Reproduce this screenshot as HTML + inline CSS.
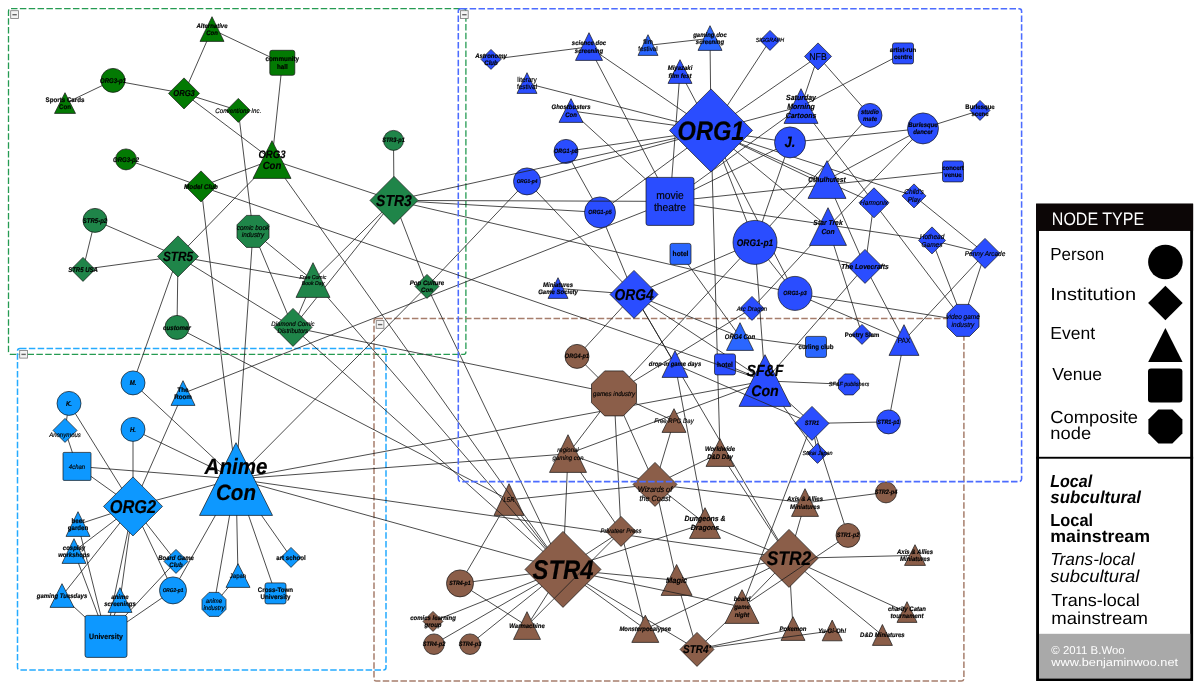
<!DOCTYPE html>
<html><head><meta charset="utf-8"><title>Network</title>
<style>
html,body{margin:0;padding:0;background:#fff;}
body{width:1199px;height:690px;overflow:hidden;font-family:"Liberation Sans",sans-serif;}
svg{display:block;}
text{font-family:"Liberation Sans",sans-serif;fill:#000;text-rendering:geometricPrecision;}
.lab text{text-anchor:middle;stroke:#000;stroke-width:0.18px;}
.bi{font-weight:bold;font-style:italic;}
.b{font-weight:bold;}
.i{font-style:italic;}
.n{}
.edges line{stroke:#1e1e1e;stroke-width:0.8;}
</style></head><body>
<svg width="1199" height="690" viewBox="0 0 1199 690">
<rect width="1199" height="690" fill="#fff"/>
<g>
<rect x="8.5" y="8.7" width="457.4" height="345.7" rx="2.5" fill="none" stroke="#259b52" stroke-width="1.3" stroke-dasharray="6.5 2.35"/><rect x="10.7" y="10.7" width="7.7" height="7.7" fill="#f4f4f4" stroke="#777" stroke-width="0.8"/><line x1="12.4" y1="14.7" x2="16.8" y2="14.7" stroke="#666" stroke-width="1.4"/>
<rect x="17.5" y="348.4" width="368.5" height="321.6" rx="2.5" fill="none" stroke="#25abff" stroke-width="1.5" stroke-dasharray="6.5 2.35"/><rect x="19.7" y="350.4" width="7.7" height="7.7" fill="#f4f4f4" stroke="#777" stroke-width="0.8"/><line x1="21.4" y1="354.4" x2="25.8" y2="354.4" stroke="#666" stroke-width="1.4"/>
<rect x="374.0" y="318.6" width="589.9" height="362.5" rx="2.5" fill="none" stroke="#a67e6c" stroke-width="1.5" stroke-dasharray="6.5 2.35"/><rect x="376.2" y="320.6" width="7.7" height="7.7" fill="#f4f4f4" stroke="#777" stroke-width="0.8"/><line x1="377.9" y1="324.6" x2="382.3" y2="324.6" stroke="#666" stroke-width="1.4"/>
</g>
<g transform="translate(0,0.4)">
<g>
<polygon points="509.0,483.3 524.0,515.0 494.0,515.0" fill="#8b5e49" stroke="#151515" stroke-width="0.7"/>
</g>
<g class="edges">
<line x1="212.0" y1="29.0" x2="282.3" y2="62.4"/>
<line x1="212.0" y1="29.0" x2="184.0" y2="93.0"/>
<line x1="113.0" y1="80.0" x2="65.0" y2="103.0"/>
<line x1="113.0" y1="80.0" x2="184.0" y2="93.0"/>
<line x1="184.0" y1="93.0" x2="238.3" y2="110.0"/>
<line x1="184.0" y1="93.0" x2="272.0" y2="159.5"/>
<line x1="282.3" y1="62.4" x2="272.0" y2="159.5"/>
<line x1="238.3" y1="110.0" x2="253.0" y2="231.0"/>
<line x1="126.0" y1="159.0" x2="201.0" y2="186.0"/>
<line x1="201.0" y1="186.0" x2="272.0" y2="159.5"/>
<line x1="272.0" y1="159.5" x2="394.0" y2="200.0"/>
<line x1="272.0" y1="159.5" x2="178.0" y2="256.0"/>
<line x1="272.0" y1="159.5" x2="563.0" y2="569.0"/>
<line x1="201.0" y1="186.0" x2="236.0" y2="478.6"/>
<line x1="393.5" y1="140.0" x2="394.0" y2="200.0"/>
<line x1="95.0" y1="220.0" x2="178.0" y2="256.0"/>
<line x1="95.0" y1="220.0" x2="83.0" y2="269.0"/>
<line x1="83.0" y1="269.0" x2="178.0" y2="256.0"/>
<line x1="178.0" y1="256.0" x2="177.0" y2="327.0"/>
<line x1="178.0" y1="256.0" x2="313.0" y2="280.0"/>
<line x1="178.0" y1="256.0" x2="293.0" y2="327.0"/>
<line x1="178.0" y1="256.0" x2="133.0" y2="382.5"/>
<line x1="253.0" y1="231.0" x2="313.0" y2="280.0"/>
<line x1="253.0" y1="231.0" x2="293.0" y2="327.0"/>
<line x1="253.0" y1="231.0" x2="236.0" y2="478.6"/>
<line x1="313.0" y1="280.0" x2="293.0" y2="327.0"/>
<line x1="394.0" y1="200.0" x2="313.0" y2="280.0"/>
<line x1="394.0" y1="200.0" x2="293.0" y2="327.0"/>
<line x1="177.0" y1="327.0" x2="502.8" y2="496.3"/>
<line x1="313.0" y1="280.0" x2="563.0" y2="569.0"/>
<line x1="183.0" y1="393.0" x2="670.0" y2="201.0"/>
<line x1="293.0" y1="327.0" x2="614.0" y2="393.0"/>
<line x1="293.0" y1="327.0" x2="563.0" y2="569.0"/>
<line x1="394.0" y1="200.0" x2="427.0" y2="286.0"/>
<line x1="427.0" y1="286.0" x2="563.0" y2="569.0"/>
<line x1="427.0" y1="286.0" x2="527.0" y2="181.0"/>
<line x1="427.0" y1="286.0" x2="236.0" y2="478.6"/>
<line x1="394.0" y1="200.0" x2="600.0" y2="212.0"/>
<line x1="394.0" y1="200.0" x2="795.0" y2="293.0"/>
<line x1="69.0" y1="403.0" x2="65.0" y2="430.0"/>
<line x1="65.0" y1="430.0" x2="77.0" y2="466.0"/>
<line x1="69.0" y1="403.0" x2="133.0" y2="506.0"/>
<line x1="77.0" y1="466.0" x2="133.0" y2="506.0"/>
<line x1="77.0" y1="466.0" x2="236.0" y2="478.6"/>
<line x1="133.0" y1="429.0" x2="133.0" y2="506.0"/>
<line x1="133.0" y1="429.0" x2="236.0" y2="478.6"/>
<line x1="133.0" y1="382.5" x2="236.0" y2="478.6"/>
<line x1="183.0" y1="393.0" x2="133.0" y2="506.0"/>
<line x1="133.0" y1="506.0" x2="236.0" y2="478.6"/>
<line x1="133.0" y1="506.0" x2="78.0" y2="524.0"/>
<line x1="133.0" y1="506.0" x2="74.0" y2="551.0"/>
<line x1="133.0" y1="506.0" x2="62.0" y2="595.5"/>
<line x1="133.0" y1="506.0" x2="120.0" y2="600.0"/>
<line x1="133.0" y1="506.0" x2="106.0" y2="636.0"/>
<line x1="133.0" y1="506.0" x2="176.0" y2="561.0"/>
<line x1="133.0" y1="506.0" x2="173.0" y2="590.0"/>
<line x1="78.0" y1="524.0" x2="106.0" y2="636.0"/>
<line x1="74.0" y1="551.0" x2="106.0" y2="636.0"/>
<line x1="62.0" y1="595.5" x2="106.0" y2="636.0"/>
<line x1="120.0" y1="600.0" x2="106.0" y2="636.0"/>
<line x1="173.0" y1="590.0" x2="106.0" y2="636.0"/>
<line x1="176.0" y1="561.0" x2="106.0" y2="636.0"/>
<line x1="173.0" y1="590.0" x2="236.0" y2="478.6"/>
<line x1="214.0" y1="604.0" x2="236.0" y2="478.6"/>
<line x1="238.0" y1="575.5" x2="236.0" y2="478.6"/>
<line x1="275.5" y1="593.0" x2="236.0" y2="478.6"/>
<line x1="291.0" y1="557.0" x2="236.0" y2="478.6"/>
<line x1="238.0" y1="575.5" x2="214.0" y2="604.0"/>
<line x1="236.0" y1="478.6" x2="765.0" y2="380.5"/>
<line x1="236.0" y1="478.6" x2="568.0" y2="453.5"/>
<line x1="236.0" y1="478.6" x2="789.0" y2="558.0"/>
<line x1="236.0" y1="478.6" x2="563.0" y2="569.0"/>
<line x1="491.0" y1="59.0" x2="589.0" y2="46.5"/>
<line x1="648.0" y1="45.0" x2="710.0" y2="38.0"/>
<line x1="710.0" y1="38.0" x2="711.0" y2="130.0"/>
<line x1="589.0" y1="46.5" x2="711.0" y2="130.0"/>
<line x1="589.0" y1="46.5" x2="670.0" y2="201.0"/>
<line x1="527.0" y1="83.0" x2="711.0" y2="130.0"/>
<line x1="571.0" y1="110.5" x2="711.0" y2="130.0"/>
<line x1="571.0" y1="110.5" x2="670.0" y2="201.0"/>
<line x1="680.0" y1="71.5" x2="711.0" y2="130.0"/>
<line x1="680.0" y1="71.5" x2="670.0" y2="201.0"/>
<line x1="770.0" y1="40.0" x2="711.0" y2="130.0"/>
<line x1="818.0" y1="56.0" x2="711.0" y2="130.0"/>
<line x1="818.0" y1="56.0" x2="801.0" y2="106.0"/>
<line x1="818.0" y1="56.0" x2="870.0" y2="115.0"/>
<line x1="903.0" y1="53.0" x2="801.0" y2="106.0"/>
<line x1="801.0" y1="106.0" x2="711.0" y2="130.0"/>
<line x1="801.0" y1="106.0" x2="874.0" y2="202.4"/>
<line x1="566.0" y1="151.0" x2="711.0" y2="130.0"/>
<line x1="566.0" y1="151.0" x2="600.0" y2="212.0"/>
<line x1="527.0" y1="181.0" x2="711.0" y2="130.0"/>
<line x1="527.0" y1="181.0" x2="634.0" y2="294.0"/>
<line x1="600.0" y1="212.0" x2="711.0" y2="130.0"/>
<line x1="600.0" y1="212.0" x2="634.0" y2="294.0"/>
<line x1="670.0" y1="201.0" x2="801.0" y2="106.0"/>
<line x1="711.0" y1="130.0" x2="790.0" y2="142.0"/>
<line x1="790.0" y1="142.0" x2="670.0" y2="201.0"/>
<line x1="790.0" y1="142.0" x2="923.0" y2="128.0"/>
<line x1="790.0" y1="142.0" x2="755.0" y2="242.0"/>
<line x1="923.0" y1="128.0" x2="980.0" y2="110.0"/>
<line x1="923.0" y1="128.0" x2="827.0" y2="179.5"/>
<line x1="923.0" y1="128.0" x2="828.0" y2="226.5"/>
<line x1="711.0" y1="130.0" x2="827.0" y2="185.5"/>
<line x1="711.0" y1="130.0" x2="914.0" y2="195.5"/>
<line x1="711.0" y1="130.0" x2="874.0" y2="202.4"/>
<line x1="711.0" y1="130.0" x2="828.0" y2="226.5"/>
<line x1="711.0" y1="130.0" x2="755.0" y2="242.0"/>
<line x1="711.0" y1="130.0" x2="795.0" y2="293.0"/>
<line x1="711.0" y1="130.0" x2="720.0" y2="452.5"/>
<line x1="670.0" y1="201.0" x2="953.0" y2="171.0"/>
<line x1="670.0" y1="201.0" x2="932.0" y2="240.0"/>
<line x1="932.0" y1="240.0" x2="985.0" y2="253.0"/>
<line x1="827.0" y1="179.5" x2="865.0" y2="266.0"/>
<line x1="828.0" y1="226.5" x2="862.0" y2="334.0"/>
<line x1="828.0" y1="226.5" x2="752.0" y2="308.0"/>
<line x1="874.0" y1="202.4" x2="865.0" y2="266.0"/>
<line x1="874.0" y1="202.4" x2="963.0" y2="320.0"/>
<line x1="914.0" y1="195.5" x2="985.0" y2="253.0"/>
<line x1="755.0" y1="242.0" x2="870.0" y2="115.0"/>
<line x1="755.0" y1="242.0" x2="865.0" y2="266.0"/>
<line x1="755.0" y1="242.0" x2="634.0" y2="294.0"/>
<line x1="755.0" y1="242.0" x2="614.0" y2="393.0"/>
<line x1="755.0" y1="242.0" x2="765.0" y2="380.5"/>
<line x1="755.0" y1="242.0" x2="795.0" y2="293.0"/>
<line x1="795.0" y1="293.0" x2="963.0" y2="320.0"/>
<line x1="795.0" y1="293.0" x2="904.0" y2="340.0"/>
<line x1="932.0" y1="240.0" x2="963.0" y2="320.0"/>
<line x1="985.0" y1="253.0" x2="963.0" y2="320.0"/>
<line x1="985.0" y1="253.0" x2="904.0" y2="340.0"/>
<line x1="865.0" y1="266.0" x2="904.0" y2="340.0"/>
<line x1="865.0" y1="266.0" x2="765.0" y2="380.5"/>
<line x1="904.0" y1="340.0" x2="888.5" y2="421.5"/>
<line x1="558.0" y1="288.0" x2="634.0" y2="294.0"/>
<line x1="634.0" y1="294.0" x2="577.0" y2="356.0"/>
<line x1="634.0" y1="294.0" x2="740.0" y2="336.5"/>
<line x1="634.0" y1="294.0" x2="765.0" y2="380.5"/>
<line x1="634.0" y1="294.0" x2="675.0" y2="364.0"/>
<line x1="634.0" y1="294.0" x2="789.0" y2="558.0"/>
<line x1="680.5" y1="253.5" x2="740.0" y2="336.5"/>
<line x1="752.0" y1="308.0" x2="614.0" y2="393.0"/>
<line x1="740.0" y1="336.5" x2="816.0" y2="346.5"/>
<line x1="725.0" y1="364.0" x2="765.0" y2="380.5"/>
<line x1="765.0" y1="380.5" x2="849.0" y2="384.0"/>
<line x1="765.0" y1="380.5" x2="812.0" y2="423.0"/>
<line x1="675.0" y1="364.0" x2="705.0" y2="523.0"/>
<line x1="812.0" y1="423.0" x2="888.5" y2="421.5"/>
<line x1="812.0" y1="423.0" x2="817.5" y2="453.0"/>
<line x1="812.0" y1="423.0" x2="742.0" y2="606.5"/>
<line x1="577.0" y1="356.0" x2="614.0" y2="393.0"/>
<line x1="614.0" y1="393.0" x2="568.0" y2="453.5"/>
<line x1="614.0" y1="393.0" x2="621.0" y2="531.0"/>
<line x1="614.0" y1="393.0" x2="655.0" y2="484.0"/>
<line x1="614.0" y1="393.0" x2="674.0" y2="420.5"/>
<line x1="674.0" y1="420.5" x2="655.0" y2="484.0"/>
<line x1="655.0" y1="484.0" x2="720.0" y2="452.5"/>
<line x1="655.0" y1="484.0" x2="568.0" y2="453.5"/>
<line x1="655.0" y1="484.0" x2="516.3" y2="498.7"/>
<line x1="655.0" y1="484.0" x2="705.0" y2="523.0"/>
<line x1="655.0" y1="484.0" x2="805.0" y2="502.5"/>
<line x1="805.0" y1="502.5" x2="886.0" y2="492.0"/>
<line x1="655.0" y1="484.0" x2="676.6" y2="579.9"/>
<line x1="568.0" y1="453.5" x2="563.0" y2="569.0"/>
<line x1="568.0" y1="453.5" x2="621.0" y2="531.0"/>
<line x1="568.0" y1="453.5" x2="765.0" y2="380.5"/>
<line x1="521.0" y1="515.0" x2="563.0" y2="569.0"/>
<line x1="499.9" y1="515.0" x2="460.0" y2="583.0"/>
<line x1="563.0" y1="569.0" x2="460.0" y2="583.0"/>
<line x1="563.0" y1="569.0" x2="433.0" y2="621.0"/>
<line x1="563.0" y1="569.0" x2="434.0" y2="643.8"/>
<line x1="563.0" y1="569.0" x2="470.0" y2="643.8"/>
<line x1="563.0" y1="569.0" x2="527.0" y2="625.5"/>
<line x1="460.0" y1="583.0" x2="527.0" y2="625.5"/>
<line x1="563.0" y1="569.0" x2="621.0" y2="531.0"/>
<line x1="563.0" y1="569.0" x2="705.0" y2="523.0"/>
<line x1="563.0" y1="569.0" x2="676.6" y2="579.9"/>
<line x1="676.6" y1="579.9" x2="789.0" y2="558.0"/>
<line x1="563.0" y1="569.0" x2="645.3" y2="628.8"/>
<line x1="563.0" y1="569.0" x2="697.0" y2="649.0"/>
<line x1="621.0" y1="531.0" x2="645.3" y2="628.8"/>
<line x1="676.6" y1="579.9" x2="697.0" y2="649.0"/>
<line x1="645.3" y1="628.8" x2="789.0" y2="558.0"/>
<line x1="805.0" y1="502.5" x2="789.0" y2="558.0"/>
<line x1="789.0" y1="558.0" x2="915.0" y2="555.0"/>
<line x1="789.0" y1="558.0" x2="907.0" y2="612.0"/>
<line x1="789.0" y1="558.0" x2="882.4" y2="634.9"/>
<line x1="789.0" y1="558.0" x2="793.0" y2="628.5"/>
<line x1="789.0" y1="558.0" x2="742.0" y2="606.5"/>
<line x1="789.0" y1="558.0" x2="705.0" y2="523.0"/>
<line x1="720.0" y1="452.5" x2="789.0" y2="558.0"/>
<line x1="742.0" y1="606.5" x2="697.0" y2="649.0"/>
<line x1="793.0" y1="628.5" x2="697.0" y2="649.0"/>
</g>
<g>
<polygon points="212.0,16.3 224.0,41.0 200.0,41.0" fill="#037a03" stroke="#151515" stroke-width="0.7"/>
<rect x="269.8" y="49.9" width="25.0" height="25.0" rx="2.2" fill="#037a03" stroke="#151515" stroke-width="0.7"/>
<circle cx="113.0" cy="80.0" r="12.0" fill="#037a03" stroke="#151515" stroke-width="0.7"/>
<polygon points="65.0,92.3 75.5,113.0 54.5,113.0" fill="#037a03" stroke="#151515" stroke-width="0.7"/>
<polygon points="184.0,77.5 199.5,93.0 184.0,108.5 168.5,93.0" fill="#037a03" stroke="#151515" stroke-width="0.7"/>
<polygon points="238.3,98.0 250.3,110.0 238.3,122.0 226.3,110.0" fill="#037a03" stroke="#151515" stroke-width="0.7"/>
<polygon points="272.0,140.3 291.0,178.0 253.0,178.0" fill="#037a03" stroke="#151515" stroke-width="0.7"/>
<circle cx="126.0" cy="159.0" r="10.5" fill="#037a03" stroke="#151515" stroke-width="0.7"/>
<polygon points="201.0,170.5 216.5,186.0 201.0,201.5 185.5,186.0" fill="#037a03" stroke="#151515" stroke-width="0.7"/>
<circle cx="393.5" cy="140.0" r="10.0" fill="#1f8549" stroke="#151515" stroke-width="0.7"/>
<polygon points="394.0,176.0 418.0,200.0 394.0,224.0 370.0,200.0" fill="#1f8549" stroke="#151515" stroke-width="0.7"/>
<circle cx="95.0" cy="220.0" r="12.0" fill="#1f8549" stroke="#151515" stroke-width="0.7"/>
<polygon points="83.0,257.0 95.0,269.0 83.0,281.0 71.0,269.0" fill="#1f8549" stroke="#151515" stroke-width="0.7"/>
<polygon points="178.0,235.5 198.5,256.0 178.0,276.5 157.5,256.0" fill="#1f8549" stroke="#151515" stroke-width="0.7"/>
<polygon points="246.4,215.0 259.6,215.0 269.0,224.4 269.0,237.6 259.6,247.0 246.4,247.0 237.0,237.6 237.0,224.4" fill="#1f8549" stroke="#151515" stroke-width="0.7"/>
<polygon points="313.0,262.3 330.0,297.0 296.0,297.0" fill="#1f8549" stroke="#151515" stroke-width="0.7"/>
<polygon points="293.0,308.0 312.0,327.0 293.0,346.0 274.0,327.0" fill="#1f8549" stroke="#151515" stroke-width="0.7"/>
<circle cx="177.0" cy="327.0" r="12.0" fill="#1f8549" stroke="#151515" stroke-width="0.7"/>
<polygon points="427.0,274.0 439.0,286.0 427.0,298.0 415.0,286.0" fill="#1f8549" stroke="#151515" stroke-width="0.7"/>
<circle cx="133.0" cy="382.5" r="12.0" fill="#0d98ff" stroke="#151515" stroke-width="0.7"/>
<circle cx="69.0" cy="403.0" r="12.0" fill="#0d98ff" stroke="#151515" stroke-width="0.7"/>
<circle cx="133.0" cy="429.0" r="12.0" fill="#0d98ff" stroke="#151515" stroke-width="0.7"/>
<polygon points="183.0,380.3 195.0,405.0 171.0,405.0" fill="#0d98ff" stroke="#151515" stroke-width="0.7"/>
<polygon points="65.0,418.0 77.0,430.0 65.0,442.0 53.0,430.0" fill="#0d98ff" stroke="#151515" stroke-width="0.7"/>
<rect x="63.0" y="452.0" width="28.0" height="28.0" rx="1.0" fill="#0d98ff" stroke="#151515" stroke-width="0.7"/>
<polygon points="133.0,476.5 162.5,506.0 133.0,535.5 103.5,506.0" fill="#0d98ff" stroke="#151515" stroke-width="0.7"/>
<polygon points="236.0,442.3 272.5,515.0 199.5,515.0" fill="#0d98ff" stroke="#151515" stroke-width="0.7"/>
<polygon points="78.0,511.3 90.0,536.0 66.0,536.0" fill="#0d98ff" stroke="#151515" stroke-width="0.7"/>
<polygon points="74.0,538.3 86.0,563.0 62.0,563.0" fill="#0d98ff" stroke="#151515" stroke-width="0.7"/>
<polygon points="62.0,583.3 74.0,607.0 50.0,607.0" fill="#0d98ff" stroke="#151515" stroke-width="0.7"/>
<polygon points="120.0,587.3 132.0,612.0 108.0,612.0" fill="#0d98ff" stroke="#151515" stroke-width="0.7"/>
<rect x="85.0" y="615.0" width="42.0" height="42.0" rx="2.2" fill="#0d98ff" stroke="#151515" stroke-width="0.7"/>
<circle cx="173.0" cy="590.0" r="13.5" fill="#0d98ff" stroke="#151515" stroke-width="0.7"/>
<polygon points="176.0,549.0 188.0,561.0 176.0,573.0 164.0,561.0" fill="#0d98ff" stroke="#151515" stroke-width="0.7"/>
<polygon points="209.0,592.0 219.0,592.0 226.0,599.0 226.0,609.0 219.0,616.0 209.0,616.0 202.0,609.0 202.0,599.0" fill="#0d98ff" stroke="#151515" stroke-width="0.7"/>
<polygon points="238.0,563.3 250.0,587.0 226.0,587.0" fill="#0d98ff" stroke="#151515" stroke-width="0.7"/>
<rect x="265.0" y="582.5" width="21.0" height="21.0" rx="2.2" fill="#0d98ff" stroke="#151515" stroke-width="0.7"/>
<polygon points="291.0,547.0 301.0,557.0 291.0,567.0 281.0,557.0" fill="#0d98ff" stroke="#151515" stroke-width="0.7"/>
<polygon points="491.0,49.0 501.0,59.0 491.0,69.0 481.0,59.0" fill="#2a4dff" stroke="#151515" stroke-width="0.7"/>
<polygon points="527.0,72.3 537.0,93.0 517.0,93.0" fill="#2a4dff" stroke="#151515" stroke-width="0.7"/>
<polygon points="589.0,32.3 602.5,60.0 575.5,60.0" fill="#2a4dff" stroke="#151515" stroke-width="0.7"/>
<polygon points="648.0,34.3 658.0,55.0 638.0,55.0" fill="#2a66ff" stroke="#151515" stroke-width="0.7"/>
<polygon points="710.0,25.3 722.0,50.0 698.0,50.0" fill="#2a66ff" stroke="#151515" stroke-width="0.7"/>
<polygon points="770.0,30.0 780.0,40.0 770.0,50.0 760.0,40.0" fill="#2a4dff" stroke="#151515" stroke-width="0.7"/>
<polygon points="680.0,59.3 692.0,83.0 668.0,83.0" fill="#2a4dff" stroke="#151515" stroke-width="0.7"/>
<polygon points="571.0,98.3 583.0,122.0 559.0,122.0" fill="#2a4dff" stroke="#151515" stroke-width="0.7"/>
<polygon points="711.0,88.5 752.5,130.0 711.0,171.5 669.5,130.0" fill="#2a4dff" stroke="#151515" stroke-width="0.7"/>
<circle cx="566.0" cy="151.0" r="12.0" fill="#2a4dff" stroke="#151515" stroke-width="0.7"/>
<circle cx="527.0" cy="181.0" r="13.5" fill="#2a4dff" stroke="#151515" stroke-width="0.7"/>
<circle cx="600.0" cy="212.0" r="15.5" fill="#2a4dff" stroke="#151515" stroke-width="0.7"/>
<rect x="646.0" y="177.0" width="48.0" height="48.0" rx="2.2" fill="#2a4dff" stroke="#151515" stroke-width="0.7"/>
<polygon points="818.0,42.5 831.5,56.0 818.0,69.5 804.5,56.0" fill="#2a4dff" stroke="#151515" stroke-width="0.7"/>
<rect x="892.5" y="42.5" width="21.0" height="21.0" rx="2.2" fill="#2a4dff" stroke="#151515" stroke-width="0.7"/>
<polygon points="801.0,88.3 818.0,123.0 784.0,123.0" fill="#2a4dff" stroke="#151515" stroke-width="0.7"/>
<circle cx="870.0" cy="115.0" r="12.0" fill="#2a4dff" stroke="#151515" stroke-width="0.7"/>
<circle cx="923.0" cy="128.0" r="15.5" fill="#2a4dff" stroke="#151515" stroke-width="0.7"/>
<polygon points="980.0,100.0 990.0,110.0 980.0,120.0 970.0,110.0" fill="#2a4dff" stroke="#151515" stroke-width="0.7"/>
<circle cx="790.0" cy="142.0" r="15.5" fill="#2a4dff" stroke="#151515" stroke-width="0.7"/>
<polygon points="827.0,160.3 846.0,198.0 808.0,198.0" fill="#2a4dff" stroke="#151515" stroke-width="0.7"/>
<rect x="942.5" y="160.5" width="21.0" height="21.0" rx="2.2" fill="#2a4dff" stroke="#151515" stroke-width="0.7"/>
<polygon points="874.0,187.4 889.0,202.4 874.0,217.4 859.0,202.4" fill="#2a4dff" stroke="#151515" stroke-width="0.7"/>
<polygon points="914.0,183.5 926.0,195.5 914.0,207.5 902.0,195.5" fill="#2a4dff" stroke="#151515" stroke-width="0.7"/>
<polygon points="828.0,207.3 846.5,245.0 809.5,245.0" fill="#2a4dff" stroke="#151515" stroke-width="0.7"/>
<polygon points="932.0,226.5 945.5,240.0 932.0,253.5 918.5,240.0" fill="#2a4dff" stroke="#151515" stroke-width="0.7"/>
<polygon points="985.0,238.0 1000.0,253.0 985.0,268.0 970.0,253.0" fill="#2a4dff" stroke="#151515" stroke-width="0.7"/>
<polygon points="865.0,249.0 882.0,266.0 865.0,283.0 848.0,266.0" fill="#2a4dff" stroke="#151515" stroke-width="0.7"/>
<circle cx="755.0" cy="242.0" r="22.0" fill="#2a4dff" stroke="#151515" stroke-width="0.7"/>
<circle cx="795.0" cy="293.0" r="17.0" fill="#2a4dff" stroke="#151515" stroke-width="0.7"/>
<rect x="670.0" y="243.0" width="21.0" height="21.0" rx="2.2" fill="#2a66ff" stroke="#151515" stroke-width="0.7"/>
<polygon points="558.0,277.3 568.0,298.0 548.0,298.0" fill="#2a4dff" stroke="#151515" stroke-width="0.7"/>
<polygon points="634.0,270.0 658.0,294.0 634.0,318.0 610.0,294.0" fill="#2a4dff" stroke="#151515" stroke-width="0.7"/>
<polygon points="752.0,296.0 764.0,308.0 752.0,320.0 740.0,308.0" fill="#2a4dff" stroke="#151515" stroke-width="0.7"/>
<polygon points="740.0,322.3 753.5,350.0 726.5,350.0" fill="#2a66ff" stroke="#151515" stroke-width="0.7"/>
<polygon points="956.4,304.0 969.6,304.0 979.0,313.4 979.0,326.6 969.6,336.0 956.4,336.0 947.0,326.6 947.0,313.4" fill="#2a4dff" stroke="#151515" stroke-width="0.7"/>
<polygon points="862.0,324.0 872.0,334.0 862.0,344.0 852.0,334.0" fill="#2a4dff" stroke="#151515" stroke-width="0.7"/>
<polygon points="904.0,324.3 919.0,355.0 889.0,355.0" fill="#2a4dff" stroke="#151515" stroke-width="0.7"/>
<rect x="805.5" y="336.0" width="21.0" height="21.0" rx="2.2" fill="#2a66ff" stroke="#151515" stroke-width="0.7"/>
<polygon points="675.0,350.3 688.0,377.0 662.0,377.0" fill="#2a4dff" stroke="#151515" stroke-width="0.7"/>
<rect x="714.5" y="353.5" width="21.0" height="21.0" rx="2.2" fill="#2a4dff" stroke="#151515" stroke-width="0.7"/>
<polygon points="765.0,354.3 791.0,406.0 739.0,406.0" fill="#2a4dff" stroke="#151515" stroke-width="0.7"/>
<polygon points="844.7,373.5 853.3,373.5 859.5,379.7 859.5,388.3 853.3,394.5 844.7,394.5 838.5,388.3 838.5,379.7" fill="#2a4dff" stroke="#151515" stroke-width="0.7"/>
<polygon points="812.0,406.0 829.0,423.0 812.0,440.0 795.0,423.0" fill="#2a4dff" stroke="#151515" stroke-width="0.7"/>
<circle cx="888.5" cy="421.5" r="12.0" fill="#2a4dff" stroke="#151515" stroke-width="0.7"/>
<polygon points="817.5,443.0 827.5,453.0 817.5,463.0 807.5,453.0" fill="#2a4dff" stroke="#151515" stroke-width="0.7"/>
<circle cx="577.0" cy="356.0" r="12.0" fill="#8b5e49" stroke="#151515" stroke-width="0.7"/>
<polygon points="604.7,370.5 623.3,370.5 636.5,383.7 636.5,402.3 623.3,415.5 604.7,415.5 591.5,402.3 591.5,383.7" fill="#8b5e49" stroke="#151515" stroke-width="0.7"/>
<polygon points="674.0,408.3 686.0,432.0 662.0,432.0" fill="#8b5e49" stroke="#151515" stroke-width="0.7"/>
<polygon points="720.0,438.3 734.0,466.0 706.0,466.0" fill="#8b5e49" stroke="#151515" stroke-width="0.7"/>
<polygon points="568.0,434.3 586.5,472.0 549.5,472.0" fill="#8b5e49" stroke="#151515" stroke-width="0.7"/>
<polygon points="655.0,462.0 677.0,484.0 655.0,506.0 633.0,484.0" fill="#8b5e49" stroke="#151515" stroke-width="0.7"/>
<polygon points="621.0,516.0 636.0,531.0 621.0,546.0 606.0,531.0" fill="#8b5e49" stroke="#151515" stroke-width="0.7"/>
<polygon points="705.0,507.3 720.5,538.0 689.5,538.0" fill="#8b5e49" stroke="#151515" stroke-width="0.7"/>
<polygon points="563.0,531.0 601.0,569.0 563.0,607.0 525.0,569.0" fill="#8b5e49" stroke="#151515" stroke-width="0.7"/>
<circle cx="460.0" cy="583.0" r="13.5" fill="#8b5e49" stroke="#151515" stroke-width="0.7"/>
<polygon points="676.6,564.1 692.1,595.0 661.1,595.0" fill="#8b5e49" stroke="#151515" stroke-width="0.7"/>
<polygon points="433.0,611.0 443.0,621.0 433.0,631.0 423.0,621.0" fill="#8b5e49" stroke="#151515" stroke-width="0.7"/>
<circle cx="434.0" cy="643.8" r="10.3" fill="#8b5e49" stroke="#151515" stroke-width="0.7"/>
<circle cx="470.0" cy="643.8" r="10.3" fill="#8b5e49" stroke="#151515" stroke-width="0.7"/>
<polygon points="527.0,611.3 540.5,639.0 513.5,639.0" fill="#8b5e49" stroke="#151515" stroke-width="0.7"/>
<polygon points="645.3,614.8 658.8,642.0 631.8,642.0" fill="#8b5e49" stroke="#151515" stroke-width="0.7"/>
<polygon points="697.0,632.0 714.0,649.0 697.0,666.0 680.0,649.0" fill="#8b5e49" stroke="#151515" stroke-width="0.7"/>
<polygon points="742.0,589.3 759.0,623.0 725.0,623.0" fill="#8b5e49" stroke="#151515" stroke-width="0.7"/>
<polygon points="805.0,488.3 818.5,516.0 791.5,516.0" fill="#8b5e49" stroke="#151515" stroke-width="0.7"/>
<circle cx="886.0" cy="492.0" r="10.5" fill="#8b5e49" stroke="#151515" stroke-width="0.7"/>
<circle cx="848.0" cy="535.0" r="12.0" fill="#8b5e49" stroke="#151515" stroke-width="0.7"/>
<polygon points="789.0,529.0 818.0,558.0 789.0,587.0 760.0,558.0" fill="#8b5e49" stroke="#151515" stroke-width="0.7"/>
<polygon points="915.0,544.3 925.5,565.0 904.5,565.0" fill="#8b5e49" stroke="#151515" stroke-width="0.7"/>
<polygon points="793.0,616.3 805.0,640.0 781.0,640.0" fill="#8b5e49" stroke="#151515" stroke-width="0.7"/>
<polygon points="832.2,619.7 842.2,640.4 822.2,640.4" fill="#8b5e49" stroke="#151515" stroke-width="0.7"/>
<polygon points="882.4,624.1 892.4,645.0 872.4,645.0" fill="#8b5e49" stroke="#151515" stroke-width="0.7"/>
<polygon points="907.0,601.3 917.0,622.0 897.0,622.0" fill="#8b5e49" stroke="#151515" stroke-width="0.7"/>
</g>
</g>
<rect x="458.3" y="8.7" width="563.3" height="472.9" rx="2.5" fill="none" stroke="#4c6cff" stroke-width="1.55" stroke-dasharray="6.5 2.35"/><rect x="460.5" y="10.7" width="7.7" height="7.7" fill="#f4f4f4" stroke="#777" stroke-width="0.8"/><line x1="462.2" y1="14.7" x2="466.6" y2="14.7" stroke="#666" stroke-width="1.4"/>
<g transform="translate(0,0.4)">
<g class="edges">
<line x1="594.4" y1="575.6" x2="734.2" y2="604.9"/>
<line x1="826.7" y1="631.2" x2="711.9" y2="646.9"/>
<line x1="212.5" y1="190.0" x2="753.8" y2="376.6"/>
<line x1="413.7" y1="195.7" x2="677.0" y2="137.5"/>
<line x1="417.9" y1="200.1" x2="646.0" y2="200.9"/>
<line x1="531.6" y1="620.8" x2="613.5" y2="538.5"/>
<line x1="838.1" y1="541.7" x2="748.5" y2="602.1"/>
<line x1="683.4" y1="367.6" x2="800.1" y2="417.9"/>
<line x1="783.5" y1="406.0" x2="813.3" y2="447.2"/>
<line x1="816.1" y1="435.9" x2="844.3" y2="523.6"/>
</g>
<g class="lab" opacity="0.999">
<text class="bi" transform="translate(212.0,27.3) scale(0.93,1)" font-size="6.45">Alternative</text><text class="bi" transform="translate(212.0,34.8) scale(0.93,1)" font-size="6.45">Con</text>
<text class="b" transform="translate(282.3,60.8) scale(0.93,1)" font-size="6.77">community</text><text class="b" transform="translate(282.3,68.3) scale(0.93,1)" font-size="6.77">hall</text>
<text class="bi" transform="translate(113.0,82.2) scale(0.88,1)" font-size="6.82">ORG3-p1</text>
<text class="b" transform="translate(65.0,101.4) scale(0.93,1)" font-size="6.67">Sports Cards</text><text class="b" transform="translate(65.0,108.9) scale(0.93,1)" font-size="6.67">Con</text>
<text class="bi" transform="translate(184.0,95.8) scale(0.88,1)" font-size="8.64">ORG3</text>
<text class="i" transform="translate(238.3,112.1) scale(0.93,1)" font-size="6.67">Conventions Inc.</text>
<text class="bi" transform="translate(272.0,157.1) scale(0.88,1)" font-size="10.91">ORG3</text><text class="bi" transform="translate(272.0,168.9) scale(0.93,1)" font-size="10.32">Con</text>
<text class="bi" transform="translate(126.0,161.2) scale(0.88,1)" font-size="6.82">ORG3-p2</text>
<text class="bi" transform="translate(201.0,188.2) scale(0.93,1)" font-size="6.77">Model Club</text>
<text class="bi" transform="translate(393.5,142.0) scale(0.88,1)" font-size="6.36">STR3-p1</text>
<text class="bi" transform="translate(394.0,205.4) scale(0.88,1)" font-size="15.91">STR3</text>
<text class="bi" transform="translate(95.0,222.2) scale(0.88,1)" font-size="6.82">STR5-p2</text>
<text class="bi" transform="translate(83.0,271.2) scale(0.88,1)" font-size="6.82">STR5 USA</text>
<text class="bi" transform="translate(178.0,260.5) scale(0.88,1)" font-size="13.41">STR5</text>
<text class="i" transform="translate(253.0,229.5) scale(0.93,1)" font-size="6.88">comic book</text><text class="i" transform="translate(253.0,237.0) scale(0.93,1)" font-size="6.88">industry</text>
<text class="i" transform="translate(313.0,278.5) scale(0.93,1)" font-size="5.59">Free Comic</text><text class="i" transform="translate(313.0,285.0) scale(0.93,1)" font-size="5.59">Book Day</text>
<text class="i" transform="translate(293.0,325.3) scale(0.93,1)" font-size="6.56">Diamond Comic</text><text class="i" transform="translate(293.0,332.8) scale(0.93,1)" font-size="6.56">Distributors</text>
<text class="bi" transform="translate(177.0,329.1) scale(0.93,1)" font-size="6.67">customer</text>
<text class="bi" transform="translate(427.0,284.3) scale(0.93,1)" font-size="6.56">Pop Culture</text><text class="bi" transform="translate(427.0,291.8) scale(0.93,1)" font-size="6.56">Con</text>
<text class="bi" transform="translate(133.0,384.7) scale(0.88,1)" font-size="6.82">M.</text>
<text class="bi" transform="translate(69.0,405.2) scale(0.88,1)" font-size="6.82">K.</text>
<text class="bi" transform="translate(133.0,431.2) scale(0.88,1)" font-size="6.82">H.</text>
<text class="b" transform="translate(183.0,391.9) scale(0.93,1)" font-size="6.67">The</text><text class="b" transform="translate(183.0,398.4) scale(0.93,1)" font-size="6.67">Room</text>
<text class="i" transform="translate(65.0,436.6) scale(0.93,1)" font-size="6.45">Anonymous</text>
<text class="i" transform="translate(77.0,468.1) scale(0.93,1)" font-size="6.45">4chan</text>
<text class="bi" transform="translate(133.0,512.3) scale(0.88,1)" font-size="18.64">ORG2</text>
<text class="bi" transform="translate(236.0,473.2) scale(0.93,1)" font-size="22.15">Anime</text><text class="bi" transform="translate(236.0,499.2) scale(0.93,1)" font-size="22.15">Con</text>
<text class="b" transform="translate(78.0,522.4) scale(0.93,1)" font-size="6.67">beer</text><text class="b" transform="translate(78.0,529.9) scale(0.93,1)" font-size="6.67">garden</text>
<text class="bi" transform="translate(74.0,549.3) scale(0.93,1)" font-size="6.45">cosplay</text><text class="bi" transform="translate(74.0,556.8) scale(0.93,1)" font-size="6.45">workshops</text>
<text class="bi" transform="translate(62.0,597.6) scale(0.93,1)" font-size="6.45">gaming Tuesdays</text>
<text class="bi" transform="translate(120.0,598.3) scale(0.93,1)" font-size="6.45">anime</text><text class="bi" transform="translate(120.0,605.8) scale(0.93,1)" font-size="6.45">screenings</text>
<text class="b" transform="translate(106.0,638.4) scale(0.93,1)" font-size="7.53">University</text>
<text class="bi" transform="translate(173.0,591.7) scale(0.88,1)" font-size="5.45">ORG2-p1</text>
<text class="bi" transform="translate(176.0,559.3) scale(0.93,1)" font-size="6.45">Board Game</text><text class="bi" transform="translate(176.0,566.8) scale(0.93,1)" font-size="6.45">Club</text>
<text class="i" transform="translate(214.0,602.3) scale(0.93,1)" font-size="6.45">anime</text><text class="i" transform="translate(214.0,609.8) scale(0.93,1)" font-size="6.45">industry</text>
<text class="n" transform="translate(238.0,577.6) scale(0.93,1)" font-size="6.45">Japan</text>
<text class="b" transform="translate(275.5,591.4) scale(0.93,1)" font-size="6.67">Cross-Town</text><text class="b" transform="translate(275.5,598.9) scale(0.93,1)" font-size="6.67">University</text>
<text class="b" transform="translate(291.0,559.1) scale(0.93,1)" font-size="6.67">art school</text>
<text class="bi" transform="translate(491.0,57.3) scale(0.93,1)" font-size="6.45">Astronomy</text><text class="bi" transform="translate(491.0,64.8) scale(0.93,1)" font-size="6.45">Club</text>
<text class="n" transform="translate(527.0,81.5) scale(0.93,1)" font-size="6.99">literary</text><text class="n" transform="translate(527.0,89.0) scale(0.93,1)" font-size="6.99">festival</text>
<text class="bi" transform="translate(589.0,44.8) scale(0.93,1)" font-size="6.45">science doc</text><text class="bi" transform="translate(589.0,52.3) scale(0.93,1)" font-size="6.45">screening</text>
<text class="n" transform="translate(648.0,43.4) scale(0.93,1)" font-size="6.67">film</text><text class="n" transform="translate(648.0,50.9) scale(0.93,1)" font-size="6.67">festival</text>
<text class="bi" transform="translate(710.0,36.3) scale(0.93,1)" font-size="6.45">gaming doc</text><text class="bi" transform="translate(710.0,43.8) scale(0.93,1)" font-size="6.45">screening</text>
<text class="i" transform="translate(770.0,41.9) scale(0.88,1)" font-size="6.14">SIGGRAPH</text>
<text class="bi" transform="translate(680.0,69.8) scale(0.93,1)" font-size="6.45">Miyazaki</text><text class="bi" transform="translate(680.0,77.3) scale(0.93,1)" font-size="6.45">film fest</text>
<text class="bi" transform="translate(571.0,108.8) scale(0.93,1)" font-size="6.45">Ghostbusters</text><text class="bi" transform="translate(571.0,116.3) scale(0.93,1)" font-size="6.45">Con</text>
<text class="bi" transform="translate(711.0,139.2) scale(0.88,1)" font-size="26.82">ORG1</text>
<text class="bi" transform="translate(566.0,153.0) scale(0.88,1)" font-size="6.25">ORG1-p8</text>
<text class="bi" transform="translate(527.0,182.7) scale(0.88,1)" font-size="5.45">ORG1-p4</text>
<text class="bi" transform="translate(600.0,213.9) scale(0.88,1)" font-size="6.14">ORG1-p5</text>
<text class="n" transform="translate(670.0,198.9) scale(0.93,1)" font-size="11.08">movie</text><text class="n" transform="translate(670.0,210.4) scale(0.93,1)" font-size="11.08">theatre</text>
<text class="n" transform="translate(818.0,59.3) scale(0.88,1)" font-size="9.89">NFB</text>
<text class="b" transform="translate(903.0,51.3) scale(0.93,1)" font-size="6.45">artist-run</text><text class="b" transform="translate(903.0,58.8) scale(0.93,1)" font-size="6.45">centre</text>
<text class="bi" transform="translate(801.0,99.7) scale(0.93,1)" font-size="7.53">Saturday</text><text class="bi" transform="translate(801.0,108.4) scale(0.93,1)" font-size="7.53">Morning</text><text class="bi" transform="translate(801.0,117.1) scale(0.93,1)" font-size="7.53">Cartoons</text>
<text class="bi" transform="translate(870.0,113.3) scale(0.93,1)" font-size="6.45">studio</text><text class="bi" transform="translate(870.0,120.8) scale(0.93,1)" font-size="6.45">mate</text>
<text class="bi" transform="translate(923.0,126.3) scale(0.93,1)" font-size="6.45">Burlesque</text><text class="bi" transform="translate(923.0,133.8) scale(0.93,1)" font-size="6.45">dancer</text>
<text class="b" transform="translate(980.0,108.6) scale(0.93,1)" font-size="6.45">Burlesque</text><text class="b" transform="translate(980.0,115.6) scale(0.93,1)" font-size="6.45">scene</text>
<text class="bi" transform="translate(790.0,147.0) scale(0.88,1)" font-size="14.77">J.</text>
<text class="bi" transform="translate(827.0,181.9) scale(0.93,1)" font-size="7.31">Cthulhufest</text>
<text class="b" transform="translate(953.0,169.3) scale(0.93,1)" font-size="6.45">concert</text><text class="b" transform="translate(953.0,176.8) scale(0.93,1)" font-size="6.45">venue</text>
<text class="i" transform="translate(874.0,204.6) scale(0.93,1)" font-size="6.99">Harmonix</text>
<text class="i" transform="translate(914.0,193.5) scale(0.93,1)" font-size="6.99">Child's</text><text class="i" transform="translate(914.0,202.0) scale(0.93,1)" font-size="6.99">Play</text>
<text class="bi" transform="translate(828.0,224.6) scale(0.93,1)" font-size="7.31">Star Trek</text><text class="bi" transform="translate(828.0,233.1) scale(0.93,1)" font-size="7.31">Con</text>
<text class="i" transform="translate(932.0,238.1) scale(0.93,1)" font-size="6.99">Hothead</text><text class="i" transform="translate(932.0,246.4) scale(0.93,1)" font-size="6.99">Games</text>
<text class="i" transform="translate(985.0,255.2) scale(0.93,1)" font-size="6.99">Penny Arcade</text>
<text class="bi" transform="translate(865.0,268.3) scale(0.93,1)" font-size="7.2">The Lovecrafts</text>
<text class="bi" transform="translate(755.0,245.1) scale(0.88,1)" font-size="9.55">ORG1-p1</text>
<text class="bi" transform="translate(795.0,294.9) scale(0.88,1)" font-size="6.14">ORG1-p3</text>
<text class="b" transform="translate(680.5,255.8) scale(0.93,1)" font-size="7.1">hotel</text>
<text class="bi" transform="translate(558.0,286.3) scale(0.93,1)" font-size="6.45">Miniatures</text><text class="bi" transform="translate(558.0,293.8) scale(0.93,1)" font-size="6.45">Game Society</text>
<text class="bi" transform="translate(634.0,299.3) scale(0.88,1)" font-size="15.68">ORG4</text>
<text class="i" transform="translate(752.0,310.1) scale(0.93,1)" font-size="6.45">Arc Dragon</text>
<text class="bi" transform="translate(740.0,338.7) scale(0.88,1)" font-size="6.82">ORG4 Con</text>
<text class="i" transform="translate(963.0,318.1) scale(0.93,1)" font-size="6.99">video game</text><text class="i" transform="translate(963.0,326.4) scale(0.93,1)" font-size="6.99">industry</text>
<text class="b" transform="translate(862.0,336.1) scale(0.93,1)" font-size="6.45">Poetry Slam</text>
<text class="n" transform="translate(904.0,342.4) scale(0.88,1)" font-size="7.39">PAX</text>
<text class="b" transform="translate(816.0,348.6) scale(0.93,1)" font-size="6.67">curling club</text>
<text class="bi" transform="translate(675.0,366.0) scale(0.93,1)" font-size="6.34">drop-in game days</text>
<text class="b" transform="translate(725.0,366.3) scale(0.93,1)" font-size="7.1">hotel</text>
<text class="bi" transform="translate(765.0,375.9) scale(0.88,1)" font-size="16.14">SF&amp;F</text><text class="bi" transform="translate(765.0,395.6) scale(0.93,1)" font-size="15.27">Con</text>
<text class="i" transform="translate(849.0,385.9) scale(0.93,1)" font-size="5.91">SF&amp;F publishers</text>
<text class="bi" transform="translate(812.0,425.0) scale(0.88,1)" font-size="6.36">STR1</text>
<text class="bi" transform="translate(888.5,423.5) scale(0.88,1)" font-size="6.25">STR1-p1</text>
<text class="i" transform="translate(817.5,454.9) scale(0.93,1)" font-size="5.91">Sōkai Japan</text>
<text class="bi" transform="translate(577.0,358.0) scale(0.88,1)" font-size="6.36">ORG4-p1</text>
<text class="i" transform="translate(614.0,395.1) scale(0.93,1)" font-size="6.67">games industry</text>
<text class="i" transform="translate(674.0,422.6) scale(0.93,1)" font-size="6.45">Free RPG Day</text>
<text class="bi" transform="translate(720.0,450.8) scale(0.93,1)" font-size="6.45">Worldwide</text><text class="bi" transform="translate(720.0,458.4) scale(0.88,1)" font-size="6.82">D&amp;D Day</text>
<text class="i" transform="translate(568.0,451.8) scale(0.93,1)" font-size="6.45">regional</text><text class="i" transform="translate(568.0,459.3) scale(0.93,1)" font-size="6.45">gaming con</text>
<text class="i" transform="translate(655.0,491.7) scale(0.93,1)" font-size="7.85">Wizards of</text><text class="i" transform="translate(655.0,500.3) scale(0.93,1)" font-size="7.85">the Coast</text>
<text class="i" transform="translate(509.0,501.7) scale(0.88,1)" font-size="6.82">L5R</text>
<text class="i" transform="translate(621.0,533.1) scale(0.93,1)" font-size="6.45">Privateer Press</text>
<text class="bi" transform="translate(705.0,520.9) scale(0.93,1)" font-size="7.53">Dungeons &amp;</text><text class="bi" transform="translate(705.0,529.9) scale(0.93,1)" font-size="7.53">Dragons</text>
<text class="bi" transform="translate(563.0,578.3) scale(0.88,1)" font-size="27.05">STR4</text>
<text class="bi" transform="translate(460.0,584.9) scale(0.88,1)" font-size="6.02">STR4-p1</text>
<text class="bi" transform="translate(676.6,582.5) scale(0.93,1)" font-size="8.06">Magic</text>
<text class="bi" transform="translate(433.0,619.3) scale(0.93,1)" font-size="6.45">comics learning</text><text class="bi" transform="translate(433.0,626.8) scale(0.93,1)" font-size="6.45">group</text>
<text class="bi" transform="translate(434.0,645.8) scale(0.88,1)" font-size="6.36">STR4-p2</text>
<text class="bi" transform="translate(470.0,645.8) scale(0.88,1)" font-size="6.36">STR4-p3</text>
<text class="bi" transform="translate(527.0,627.6) scale(0.93,1)" font-size="6.45">Warmachine</text>
<text class="bi" transform="translate(645.3,630.8) scale(0.93,1)" font-size="6.34">Monsterpocalypse</text>
<text class="bi" transform="translate(697.0,652.8) scale(0.88,1)" font-size="11.36">STR4'</text>
<text class="bi" transform="translate(742.0,601.0) scale(0.93,1)" font-size="6.45">board</text><text class="bi" transform="translate(742.0,608.6) scale(0.93,1)" font-size="6.45">game</text><text class="bi" transform="translate(742.0,616.2) scale(0.93,1)" font-size="6.45">night</text>
<text class="bi" transform="translate(805.0,500.8) scale(0.93,1)" font-size="6.45">Axis &amp; Allies</text><text class="bi" transform="translate(805.0,508.3) scale(0.93,1)" font-size="6.45">Miniatures</text>
<text class="bi" transform="translate(886.0,494.0) scale(0.88,1)" font-size="6.36">STR2-p4</text>
<text class="bi" transform="translate(848.0,537.0) scale(0.88,1)" font-size="6.36">STR1-p2</text>
<text class="bi" transform="translate(789.0,564.7) scale(0.88,1)" font-size="19.77">STR2</text>
<text class="bi" transform="translate(915.0,553.3) scale(0.93,1)" font-size="6.45">Axis &amp; Allies</text><text class="bi" transform="translate(915.0,560.8) scale(0.93,1)" font-size="6.45">Miniatures</text>
<text class="bi" transform="translate(793.0,630.6) scale(0.93,1)" font-size="6.45">Pokemon</text>
<text class="bi" transform="translate(832.2,632.5) scale(0.93,1)" font-size="6.45">Yu-Gi-Oh!</text>
<text class="bi" transform="translate(882.4,637.0) scale(0.93,1)" font-size="6.45">D&amp;D Miniatures</text>
<text class="bi" transform="translate(907.0,610.3) scale(0.93,1)" font-size="6.45">charity Catan</text><text class="bi" transform="translate(907.0,617.8) scale(0.93,1)" font-size="6.45">tournament</text>
</g>
</g>
<g id="legend">
<rect x="1036.1" y="203.7" width="157" height="477.3" fill="#000"/>
<rect x="1039" y="230.8" width="151.2" height="447.5" fill="#fff"/>
<rect x="1036.1" y="203.7" width="157" height="27.1" fill="#0c0606"/>
<circle cx="1165.4" cy="262" r="17.3" fill="#000"/>
<polygon points="1165.4,285.7 1182.7,303 1165.4,320.3 1148.1,303" fill="#000"/>
<polygon points="1165.4,328 1182.6,362 1148.2,362" fill="#000"/>
<rect x="1148" y="368.6" width="34.4" height="34" rx="3" fill="#000"/>
<polygon points="1158.4,409.6 1172.4,409.6 1182.4,419.6 1182.4,433.6 1172.4,443.6 1158.4,443.6 1148.4,433.6 1148.4,419.6" fill="#000"/>
<rect x="1036.1" y="456.8" width="157" height="1.9" fill="#000"/>
<rect x="1039" y="633.8" width="151.2" height="44.5" fill="#a9a9a9"/>
</g>
<g id="legendtext" opacity="0.999">
<text class="n" transform="translate(1051.80,224.70) scale(0.8911,1)" font-size="18" style="fill:#fff">NODE TYPE</text>
<text class="n" transform="translate(1050.30,260.00) scale(0.9758,1)" font-size="17.4" style="fill:#000">Person</text>
<text class="n" transform="translate(1050.30,299.60) scale(1.1520,1)" font-size="17.4" style="fill:#000">Institution</text>
<text class="n" transform="translate(1050.30,339.00) scale(1.0069,1)" font-size="17.4" style="fill:#000">Event</text>
<text class="n" transform="translate(1052.30,380.00) scale(1.0090,1)" font-size="17.4" style="fill:#000">Venue</text>
<text class="n" transform="translate(1050.30,422.50) scale(1.0557,1)" font-size="17.4" style="fill:#000">Composite</text>
<text class="n" transform="translate(1050.30,439.40) scale(1.0540,1)" font-size="17.4" style="fill:#000">node</text>
<text class="bi" transform="translate(1050.30,486.50) scale(0.9198,1)" font-size="17.4" style="fill:#000">Local</text>
<text class="bi" transform="translate(1050.30,502.70) scale(0.9682,1)" font-size="17.4" style="fill:#000">subcultural</text>
<text class="b" transform="translate(1050.30,525.70) scale(0.9418,1)" font-size="17.4" style="fill:#000">Local</text>
<text class="b" transform="translate(1050.30,542.30) scale(1.0217,1)" font-size="17.4" style="fill:#000">mainstream</text>
<text class="i" transform="translate(1050.30,565.00) scale(0.9945,1)" font-size="17.4" style="fill:#000">Trans-local</text>
<text class="i" transform="translate(1050.30,581.80) scale(1.0600,1)" font-size="17.4" style="fill:#000">subcultural</text>
<text class="n" transform="translate(1051.30,606.30) scale(1.0361,1)" font-size="17.4" style="fill:#000">Trans-local</text>
<text class="n" transform="translate(1051.30,623.70) scale(1.0650,1)" font-size="17.4" style="fill:#000">mainstream</text>
<text class="n" transform="translate(1051.30,653.80) scale(1.0020,1)" font-size="11.4" style="fill:#fff">© 2011 B.Woo</text>
<text class="n" transform="translate(1051.30,666.00) scale(1.1179,1)" font-size="11.4" style="fill:#fff">www.benjaminwoo.net</text>
</g>
</svg>
</body></html>
